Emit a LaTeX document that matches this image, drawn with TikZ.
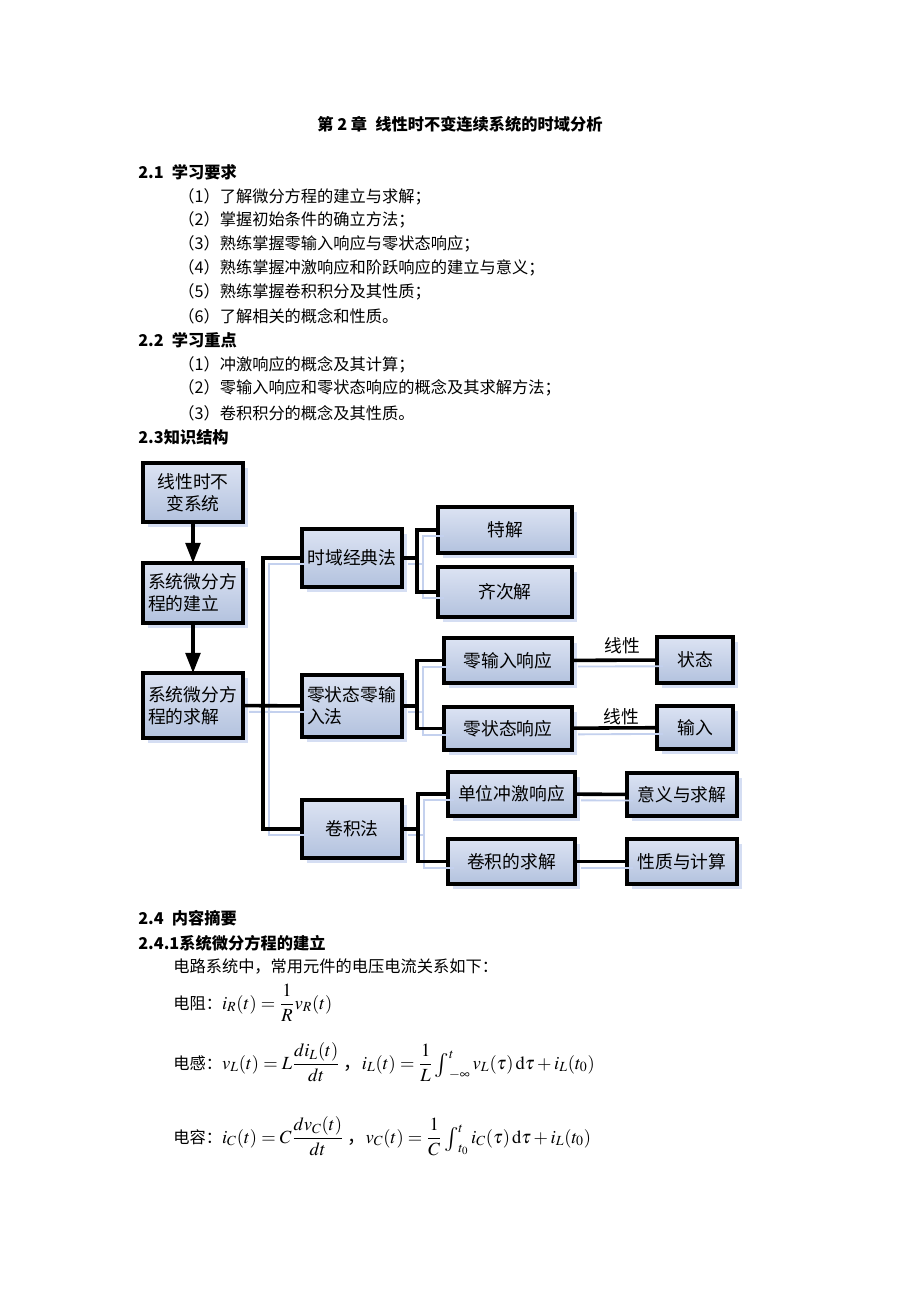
\documentclass[tikz,border=0pt]{standalone}
\usepackage{amsmath}
\usepackage{mathptmx}
\usepackage[no-math]{fontspec}
\setmainfont{Liberation Serif}
\newfontfamily\cjk{Noto Sans CJK SC}
\usetikzlibrary{arrows.meta,shadows}

\definecolor{boxtop}{HTML}{DCE3F3}
\definecolor{boxbot}{HTML}{B3C2DE}
\definecolor{shadowblue}{HTML}{C4D1EE}
\newcommand\pxu{0.6467pt}
\newcommand\mth{\fontsize{12pt}{14pt}\selectfont}
\newcommand\midint{\mathop{\raisebox{-0.25ex}{\scalebox{1.3}{$\textstyle\int$}}}\nolimits}

% all connectors of the chart, drawn twice (shadow, then line)
\newcommand\wiring{%
  \draw (solve) -- (zero);
  \draw (classic) -| (tk) |- (conv);
  \draw (classic) -- (j1) |- (part);
  \draw (j1) |- (homo);
  \draw (zero) -- (j2) |- (zi);
  \draw (j2) |- (zs);
  \draw (conv) -- (j3) |- (imp);
  \draw (j3) |- (convsol);
  \draw (zi) -- (state);
  \draw (zs) -- (input);
  \draw (imp) -- (mean);
  \draw (convsol) -- (prop);}

\begin{document}
\begin{tikzpicture}[x=\pxu,y=-\pxu,
    body/.style={anchor=west, inner sep=0pt, font=\cjk\fontsize{10.5pt}{14pt}\selectfont},
    head/.style={body, font=\cjk\bfseries\fontsize{10.5pt}{14pt}\selectfont},
    box/.style={draw, line width=2.5pt, top color=boxtop, bottom color=boxbot,
      drop shadow={shadow xshift=3pt, shadow yshift=-3pt, fill=shadowblue, opacity=0.7},
      inner sep=2pt, outer sep=0pt, align=center,
      font=\cjk\fontsize{11.5pt}{14pt}\selectfont},
    lbox/.style={box, align=left, text width=58pt},
    sz/.style 2 args={minimum width={#1*\pxu}, minimum height={#2*\pxu}},
    lab/.style={inner sep=0pt, font=\cjk\fontsize{11.5pt}{14pt}\selectfont},
    wireshadow/.style={shadowblue, line width=1.2pt, transform canvas={shift={(4pt,-4pt)}}},
    wire/.style={black, line width=2.3pt},
    flow/.style={line width=2.2pt, -{Triangle[length=13pt,width=9.5pt]}}]

  \fill[white] (0,0) rectangle (920,1302);
  \useasboundingbox (0,0) rectangle (920,1302);

  % page text
  \node[head, anchor=center] (title) at (460,124) {第 2 章\enspace 线性时不变连续系统的时域分析};
  \node[head] (h21) at (138,172) {2.1\enspace 学习要求};
  \node[body] (r1) at (178,197) {（1）了解微分方程的建立与求解；};
  \node[body] (r2) at (178,220) {（2）掌握初始条件的确立方法；};
  \node[body] (r3) at (178,244) {（3）熟练掌握零输入响应与零状态响应；};
  \node[body] (r4) at (178,268) {（4）熟练掌握冲激响应和阶跃响应的建立与意义；};
  \node[body] (r5) at (178,292) {（5）熟练掌握卷积积分及其性质；};
  \node[body] (r6) at (178,316) {（6）了解相关的概念和性质。};
  \node[head] (h22) at (138,340) {2.2\enspace 学习重点};
  \node[body] (k1) at (178,365) {（1）冲激响应的概念及其计算；};
  \node[body] (k2) at (178,388) {（2）零输入响应和零状态响应的概念及其求解方法；};
  \node[body] (k3) at (178,413) {（3）卷积积分的概念及其性质。};
  \node[head] (h23) at (138,437) {2.3知识结构};

  % diagram
  \node[box, sz={100}{59}] (sys) at (193,492.5) {线性时不\\变系统};
  \node[lbox, sz={100}{60}] (build) at (193,593) {系统微分方\\程的建立};
  \node[lbox, sz={100}{65}] (solve) at (193,705.5) {系统微分方\\程的求解};
  \node[box, sz={100}{58}] (classic) at (352,558) {时域经典法};
  \node[lbox, sz={100}{62}] (zero) at (352,706) {零状态零输\\入法};
  \node[box, sz={100}{58}] (conv) at (352,829) {卷积法};
  \node[box, sz={134}{46}] (part) at (505,530) {特解};
  \node[box, sz={134}{50}] (homo) at (505,592) {齐次解};
  \node[box, sz={128}{45}] (zi) at (508,660.5) {零输入响应};
  \node[box, sz={128}{43}] (zs) at (508,728.5) {零状态响应};
  \node[box, sz={76}{46}] (state) at (695,660) {状态};
  \node[box, sz={76}{43}] (input) at (695,727.5) {输入};
  \node[box, sz={127}{44}] (imp) at (511.5,794) {单位冲激响应};
  \node[box, sz={127}{45}] (convsol) at (511.5,861.5) {卷积的求解};
  \node[box, sz={110}{43}] (mean) at (682,794.5) {意义与求解};
  \node[box, sz={110}{45}] (prop) at (682,861.5) {性质与计算};

  \coordinate (tk) at (263,706);
  \coordinate (j1) at (417,558);
  \coordinate (j2) at (417,706);
  \coordinate (j3) at (418,829);

  \begin{scope}[wireshadow]
    \wiring
  \end{scope}
  \begin{scope}[wire]
    \wiring
  \end{scope}
  \draw[flow] (sys) -- (build);
  \draw[flow] (build) -- (solve);

  \node[lab] (lin1) at (622,646) {线性};
  \node[lab] (lin2) at (621,717) {线性};

  % summary
  \node[head] (h24) at (138,918) {2.4\enspace 内容摘要};
  \node[head] (h241) at (138,943) {2.4.1系统微分方程的建立};
  \node[body] (intro) at (173,967) {电路系统中，常用元件的电压电流关系如下：};
  \node[body, anchor=base west] (eqR) at (173,1009)
    {电阻：\mth$\displaystyle i_R(t)=\frac{1}{R}v_R(t)$};
  \node[body, anchor=base west] (eqL) at (173,1069)
    {电感：\mth$\displaystyle v_L(t)=L\frac{di_L(t)}{dt}$\hspace{2pt}，\mth$\displaystyle i_L(t)=\frac{1}{L}\midint_{-\infty}^{t}v_L(\tau)\,\mathrm{d}\tau+i_L(t_0)$};
  \node[body, anchor=base west] (eqC) at (173,1143)
    {电容：\mth$\displaystyle i_C(t)=C\frac{dv_C(t)}{dt}$\hspace{2pt}，\mth$\displaystyle v_C(t)=\frac{1}{C}\midint_{t_0}^{t}i_C(\tau)\,\mathrm{d}\tau+i_L(t_0)$};
\end{tikzpicture}
\end{document}
